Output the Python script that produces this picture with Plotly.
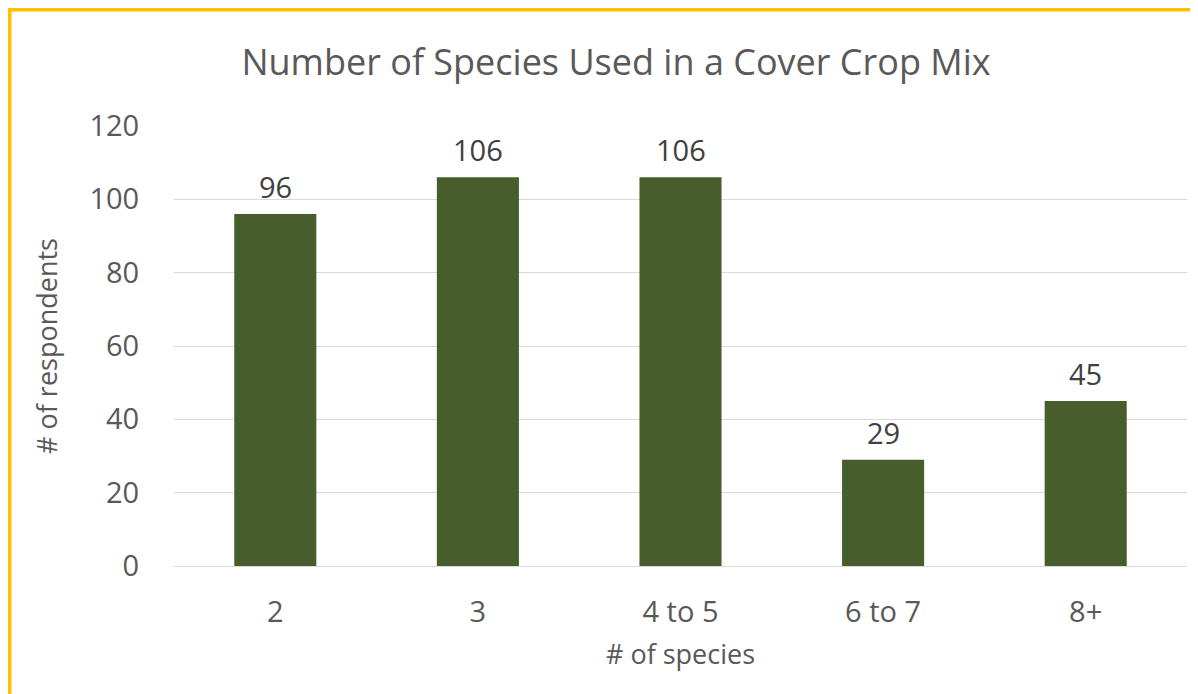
import plotly.graph_objects as go

categories = ["2", "3", "4 to 5", "6 to 7", "8+"]
respondents = [96, 106, 106, 29, 45]
y_ticks = [0, 20, 40, 60, 80, 100, 120]

W, H = 1198, 694
OFF = 8  # page body offset
# plot area in screen pixels
PL, PR, PT, PB = 174, 1187, 126, 566
ML, MT = PL - OFF, PT - OFF
MR = W - (PR - OFF)
MB = H - (PB - OFF)
PW = W - ML - MR
PH = H - MT - MB

def fx(x):  # figure pixel -> paper
    return (x - ML) / PW

def fy(y):
    return (H - MB - y) / PH

fig = go.Figure()
fig.add_trace(go.Bar(
    x=categories, y=respondents,
    marker=dict(color="#475D2B", line=dict(width=0)),
    width=0.405,
    cliponaxis=False,
))

for i, v in enumerate(respondents):
    fig.add_annotation(x=i, y=v, text=str(v), showarrow=False,
                       yanchor="bottom", yshift=6,
                       font=dict(size=29, color="#404040", family="Open Sans"))

shapes = [
    dict(type="rect", xref="paper", yref="paper", x0=fx(1), x1=fx(W + 20), y0=fy(1), y1=fy(H + 20),
         fillcolor="white", line=dict(color="#FFC000", width=5), layer="below"),
]

fig.update_layout(
    width=W, height=H,
    margin=dict(l=ML, r=MR, t=MT, b=MB),
    paper_bgcolor="white",
    plot_bgcolor="rgba(0,0,0,0)",
    shapes=shapes,
    showlegend=False,
    font=dict(family="Open Sans", color="#595959"),
    title=dict(text="Number of Species Used in a Cover Crop Mix",
               xref="container", yref="container",
               x=(616 - OFF) / W, xanchor="center", y=1 - (62 - OFF) / H, yanchor="middle",
               font=dict(size=36, color="#595959", family="Open Sans")),
    xaxis=dict(
        type="category",
        tickfont=dict(size=29, color="#595959"),
        title=dict(text="# of species", font=dict(size=27, color="#595959"), standoff=16),
        showline=False, ticks="outside", ticklen=20, tickcolor="rgba(0,0,0,0)", showgrid=False,
    ),
    yaxis=dict(
        range=[0, 120], tickvals=y_ticks,
        tickfont=dict(size=29, color="#595959"),
        title=dict(text="# of respondents", font=dict(size=27, color="#595959"), standoff=24),
        showgrid=True, gridcolor="#D9D9D9", gridwidth=1,
        zeroline=True, zerolinecolor="#D9D9D9", zerolinewidth=1,
        ticks="outside", ticklen=28, tickcolor="rgba(0,0,0,0)",
    ),
)

fig.write_html("out.html")
